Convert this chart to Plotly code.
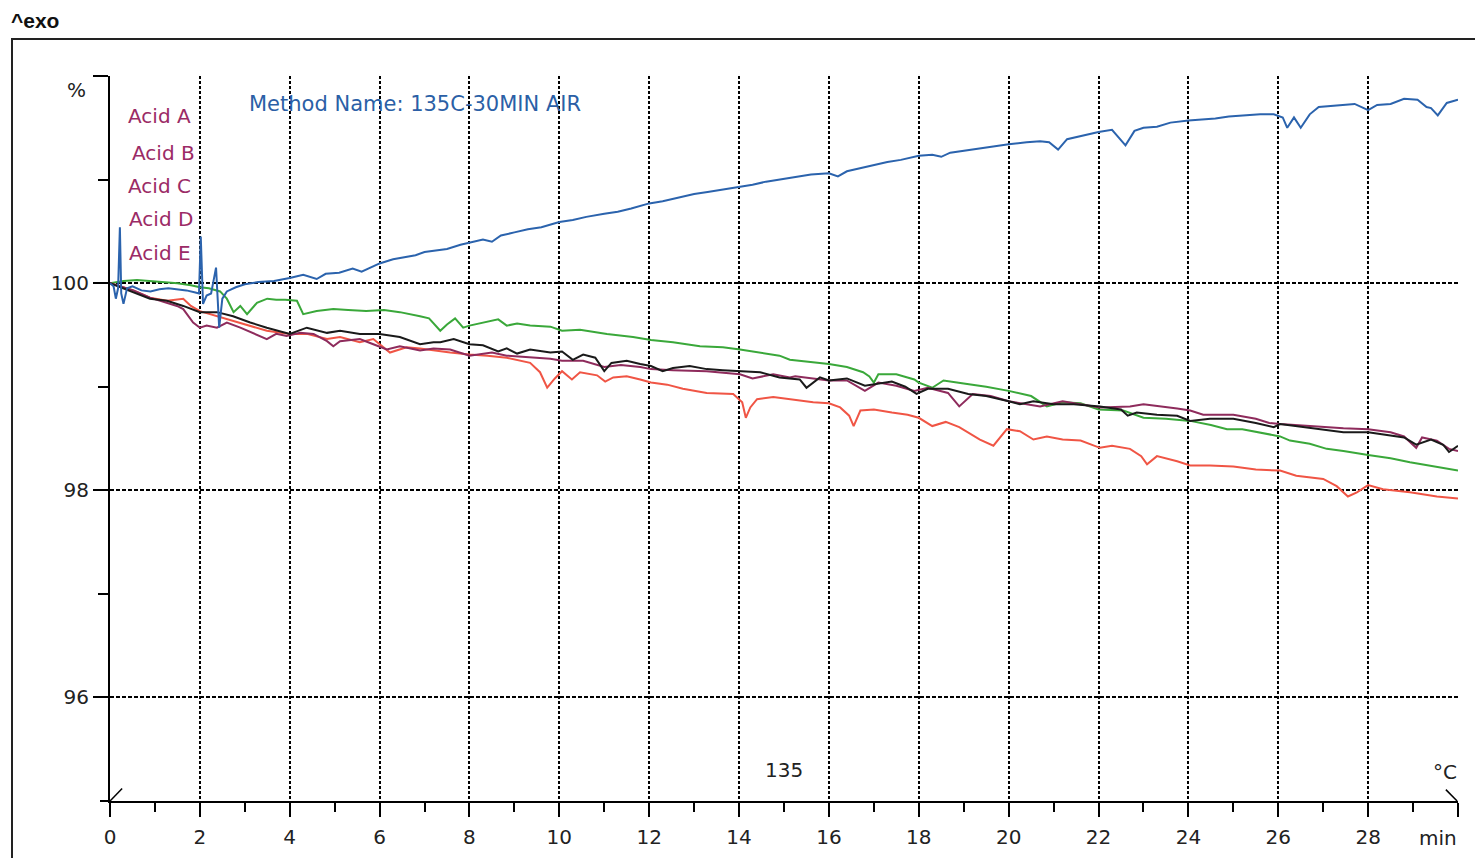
import plotly.graph_objects as go

# ---------------- data (time in min, mass in %) ----------------
blue_t = [0.0, 0.08, 0.13, 0.18, 0.22, 0.25, 0.30, 0.38, 0.5, 0.7, 0.9, 1.1, 1.3, 1.5, 1.7, 1.9, 1.98,
          2.02, 2.07, 2.15, 2.25, 2.36, 2.43, 2.5, 2.6, 2.8, 3.0, 3.3, 3.65, 4.0, 4.3, 4.6, 4.8, 5.1,
          5.4, 5.6, 5.8, 6.0, 6.3, 6.55, 6.8, 7.0, 7.3, 7.5, 7.8, 8.0, 8.3, 8.5, 8.7, 9.0, 9.3, 9.6,
          10.0, 10.3, 10.6, 11.0, 11.3, 11.6, 12.0, 12.3, 12.6, 13.0, 13.3, 13.6, 14.0, 14.3, 14.6,
          15.0, 15.3, 15.6, 16.0, 16.2, 16.4, 16.7, 17.0, 17.3, 17.6, 18.0, 18.3, 18.5, 18.7, 19.0,
          19.3, 19.6, 20.0, 20.4, 20.7, 20.9, 21.1, 21.3, 21.6, 22.0, 22.3, 22.6, 22.8, 23.0, 23.3,
          23.6, 24.0, 24.3, 24.6, 24.9, 25.3, 25.6, 25.9, 26.1, 26.2, 26.35, 26.5, 26.7, 26.9, 27.2,
          27.5, 27.7, 28.0, 28.2, 28.5, 28.8, 29.1, 29.3, 29.4, 29.55, 29.75, 30.0]
blue_v = [100.00, 99.97, 99.85, 99.95, 100.54, 99.90, 99.80, 99.95, 99.97, 99.93, 99.92, 99.94, 99.95,
          99.94, 99.93, 99.91, 99.90, 100.45, 99.80, 99.88, 99.90, 100.15, 99.57, 99.85, 99.92, 99.96,
          99.99, 100.01, 100.02, 100.05, 100.08, 100.04, 100.09, 100.10, 100.14, 100.11, 100.15, 100.19,
          100.23, 100.25, 100.27, 100.30, 100.32, 100.33, 100.37, 100.39, 100.42, 100.40, 100.46, 100.49,
          100.52, 100.54, 100.59, 100.61, 100.64, 100.67, 100.69, 100.72, 100.77, 100.79, 100.82, 100.86,
          100.88, 100.90, 100.93, 100.95, 100.98, 101.01, 101.03, 101.05, 101.06, 101.03, 101.08, 101.11,
          101.14, 101.17, 101.19, 101.23, 101.24, 101.22, 101.26, 101.28, 101.30, 101.32, 101.34, 101.36,
          101.37, 101.36, 101.29, 101.39, 101.42, 101.46, 101.48, 101.33, 101.47, 101.50, 101.51, 101.55,
          101.57, 101.58, 101.59, 101.61, 101.62, 101.63, 101.63, 101.60, 101.50, 101.60, 101.50, 101.63,
          101.70, 101.71, 101.72, 101.73, 101.67, 101.72, 101.73, 101.78, 101.77, 101.70, 101.69, 101.62,
          101.74, 101.77]

green_t = [0.0, 0.3, 0.6, 0.9, 1.2, 1.5, 1.8, 2.0, 2.2, 2.45, 2.6, 2.75, 2.9, 3.05, 3.27, 3.5, 3.7, 3.9,
           4.16, 4.3, 4.6, 4.97, 5.3, 5.7, 6.1, 6.45, 6.9, 7.1, 7.35, 7.5, 7.68, 7.86, 8.0, 8.3, 8.64,
           8.83, 9.06, 9.35, 9.8, 10.06, 10.46, 11.06, 11.64, 12.04, 12.53, 13.13, 13.64, 14.02, 14.47,
           14.9, 15.13, 15.65, 16.0, 16.4, 16.76, 16.9, 17.0, 17.1, 17.5, 17.9, 18.0, 18.3, 18.55, 19.0,
           19.5, 20.0, 20.5, 20.85, 21.2, 21.6, 22.0, 22.55, 23.0, 23.5, 24.04, 24.5, 24.86, 25.2, 25.6,
           26.04, 26.26, 26.7, 27.08, 27.45, 28.0, 28.5, 28.93, 29.3, 29.67, 30.0]
green_v = [100.00, 100.02, 100.03, 100.02, 100.01, 100.00, 99.98, 99.96, 99.95, 99.92, 99.85, 99.72,
           99.78, 99.70, 99.81, 99.85, 99.84, 99.84, 99.83, 99.70, 99.73, 99.75, 99.74, 99.73, 99.74,
           99.72, 99.68, 99.66, 99.54, 99.60, 99.66, 99.57, 99.59, 99.62, 99.65, 99.59, 99.61, 99.59,
           99.58, 99.54, 99.55, 99.51, 99.48, 99.45, 99.43, 99.39, 99.38, 99.36, 99.33, 99.30, 99.26,
           99.24, 99.22, 99.19, 99.14, 99.10, 99.04, 99.12, 99.12, 99.07, 99.04, 98.99, 99.06, 99.03,
           99.00, 98.96, 98.91, 98.81, 98.85, 98.84, 98.78, 98.77, 98.70, 98.69, 98.67, 98.63, 98.59,
           98.59, 98.56, 98.52, 98.48, 98.45, 98.40, 98.38, 98.34, 98.31, 98.27, 98.24, 98.21, 98.19]

red_t = [0.0, 0.25, 0.52, 0.89, 1.27, 1.63, 1.8, 2.0, 2.38, 2.74, 3.12, 3.49, 4.0, 4.38, 4.83, 5.12,
         5.56, 5.86, 6.23, 6.6, 6.9, 7.2, 7.57, 8.0, 8.4, 8.83, 9.35, 9.57, 9.73, 9.9, 10.06, 10.28,
         10.46, 10.84, 11.02, 11.2, 11.5, 11.8, 12.04, 12.4, 12.75, 13.28, 13.87, 14.07, 14.15, 14.25,
         14.4, 14.76, 15.13, 15.65, 16.0, 16.25, 16.45, 16.55, 16.7, 17.0, 17.4, 17.75, 18.0, 18.3,
         18.6, 18.9, 19.36, 19.66, 19.96, 20.25, 20.55, 20.85, 21.2, 21.6, 22.03, 22.3, 22.7, 22.95,
         23.08, 23.3, 23.75, 24.04, 24.48, 25.0, 25.5, 26.04, 26.4, 27.0, 27.3, 27.55, 27.75, 28.0,
         28.33, 28.93, 29.53, 30.0]
red_v = [100.00, 99.97, 99.93, 99.86, 99.83, 99.85, 99.78, 99.73, 99.68, 99.64, 99.59, 99.54, 99.51,
         99.51, 99.46, 99.48, 99.43, 99.46, 99.33, 99.38, 99.37, 99.35, 99.33, 99.31, 99.30, 99.28,
         99.23, 99.14, 98.99, 99.08, 99.15, 99.07, 99.14, 99.11, 99.05, 99.09, 99.10, 99.07, 99.04,
         99.02, 98.98, 98.94, 98.93, 98.85, 98.70, 98.80, 98.88, 98.90, 98.88, 98.85, 98.84, 98.80,
         98.72, 98.62, 98.77, 98.78, 98.75, 98.73, 98.70, 98.62, 98.66, 98.61, 98.49, 98.43, 98.59,
         98.57, 98.49, 98.52, 98.49, 98.48, 98.41, 98.43, 98.40, 98.33, 98.25, 98.33, 98.28, 98.24,
         98.24, 98.23, 98.20, 98.19, 98.14, 98.11, 98.04, 97.94, 97.98, 98.05, 98.01, 97.98, 97.94,
         97.92]

black_t = [0.0, 0.52, 0.89, 1.27, 1.63, 2.0, 2.38, 2.74, 3.12, 3.49, 4.0, 4.38, 4.83, 5.12, 5.56, 6.0,
           6.45, 6.9, 7.2, 7.35, 7.65, 8.0, 8.3, 8.64, 8.83, 9.06, 9.35, 9.8, 10.06, 10.3, 10.53, 10.8,
           11.0, 11.16, 11.5, 11.8, 12.04, 12.3, 12.53, 12.9, 13.28, 13.64, 14.02, 14.47, 14.9, 15.2,
           15.35, 15.5, 15.8, 16.0, 16.4, 16.8, 17.1, 17.4, 17.7, 17.95, 18.2, 18.65, 19.1, 19.5, 20.0,
           20.25, 20.55, 21.0, 21.45, 22.03, 22.5, 22.65, 22.85, 23.3, 23.75, 24.04, 24.48, 25.0, 25.5,
           25.9, 26.04, 26.4, 27.0, 27.45, 28.0, 28.5, 28.8, 29.07, 29.4, 29.67, 29.8, 30.0]
black_v = [100.00, 99.91, 99.85, 99.83, 99.78, 99.72, 99.72, 99.68, 99.62, 99.57, 99.51, 99.57, 99.52,
           99.54, 99.51, 99.51, 99.48, 99.41, 99.43, 99.43, 99.46, 99.41, 99.40, 99.34, 99.37, 99.32,
           99.36, 99.33, 99.34, 99.26, 99.31, 99.28, 99.15, 99.23, 99.25, 99.22, 99.20, 99.15, 99.18,
           99.20, 99.17, 99.16, 99.15, 99.14, 99.09, 99.08, 99.07, 98.99, 99.09, 99.06, 99.08, 99.01,
           99.03, 99.05, 99.00, 98.93, 98.98, 98.98, 98.93, 98.91, 98.86, 98.83, 98.86, 98.83, 98.83,
           98.81, 98.78, 98.72, 98.75, 98.73, 98.72, 98.67, 98.69, 98.69, 98.65, 98.61, 98.64, 98.62,
           98.59, 98.56, 98.56, 98.53, 98.51, 98.44, 98.49, 98.44, 98.37, 98.43]

purple_t = [0.0, 0.52, 0.89, 1.27, 1.49, 1.63, 1.85, 2.0, 2.15, 2.38, 2.6, 2.9, 3.2, 3.49, 3.7, 3.93,
            4.23, 4.53, 4.83, 4.97, 5.12, 5.56, 5.86, 6.16, 6.45, 6.9, 7.2, 7.57, 8.0, 8.5, 8.83, 9.35,
            9.8, 10.06, 10.53, 11.0, 11.37, 11.8, 12.04, 12.53, 13.28, 14.02, 14.3, 14.76, 15.13, 15.25,
            15.8, 16.0, 16.4, 16.8, 17.1, 17.5, 17.9, 18.2, 18.65, 18.9, 19.2, 19.6, 20.0, 20.7, 21.2,
            21.6, 22.03, 22.7, 23.0, 23.75, 24.04, 24.33, 25.0, 25.5, 25.8, 26.04, 26.7, 27.45, 28.0,
            28.5, 28.8, 29.07, 29.2, 29.53, 29.8, 30.0]
purple_v = [100.00, 99.93, 99.86, 99.81, 99.78, 99.75, 99.62, 99.57, 99.59, 99.57, 99.62, 99.57, 99.51,
            99.46, 99.51, 99.49, 99.52, 99.51, 99.44, 99.39, 99.44, 99.46, 99.41, 99.36, 99.39, 99.35,
            99.37, 99.36, 99.30, 99.33, 99.30, 99.28, 99.27, 99.25, 99.25, 99.19, 99.21, 99.19, 99.17,
            99.16, 99.15, 99.12, 99.08, 99.12, 99.09, 99.10, 99.07, 99.06, 99.06, 98.96, 99.04, 99.01,
            98.96, 98.99, 98.94, 98.81, 98.93, 98.91, 98.86, 98.81, 98.86, 98.83, 98.80, 98.81, 98.83,
            98.79, 98.77, 98.73, 98.73, 98.69, 98.65, 98.64, 98.62, 98.60, 98.59, 98.56, 98.52, 98.41,
            98.51, 98.48, 98.40, 98.38]

acid_labels = ["Acid A", "Acid B", "Acid C", "Acid D", "Acid E"]
x_tick_vals = list(range(0, 31, 2))
x_tick_text = [str(v) for v in range(0, 29, 2)] + [""]
y_tick_vals = [96, 98, 100, 102]
y_tick_text = ["96", "98", "100", ""]

# ---------------- figure ----------------
FONT = "DejaVu Sans"
fig = go.Figure()

series = [
    (green_t, green_v, "#3aa83a", "Acid C"),
    (red_t, red_v, "#f05545", "Acid D"),
    (purple_t, purple_v, "#8e2b5c", "Acid E"),
    (black_t, black_v, "#1a1a1a", "Acid B"),
    (blue_t, blue_v, "#2b63ad", "Acid A"),
]
for t, v, c, n in series:
    fig.add_trace(go.Scatter(x=t, y=v, mode="lines", name=n,
                             line=dict(color=c, width=2), showlegend=False))

fig.update_xaxes(
    range=[0, 30], showline=True, linecolor="black", linewidth=2,
    tickmode="array", tickvals=x_tick_vals, ticktext=x_tick_text,
    ticks="outside", ticklen=14, tickwidth=2, tickcolor="black",
    minor=dict(tickvals=list(range(1, 30, 2)), ticks="outside", ticklen=9,
               tickwidth=2, tickcolor="black", showgrid=False),
    showgrid=True, gridcolor="black", gridwidth=1.8, griddash="3px,2px",
    zeroline=False, tickfont=dict(family=FONT, size=20, color="#222"),
    ticklabelstandoff=3, automargin=False,
)
fig.update_yaxes(
    range=[95, 102], showline=True, linecolor="black", linewidth=2,
    tickmode="array", tickvals=y_tick_vals, ticktext=y_tick_text,
    ticks="outside", ticklen=15, tickwidth=2, tickcolor="black",
    minor=dict(tickvals=[97, 99, 101], ticks="outside", ticklen=10,
               tickwidth=2, tickcolor="black", showgrid=False),
    showgrid=True, gridcolor="black", gridwidth=1.8, griddash="4px,2px",
    zeroline=False, tickfont=dict(family=FONT, size=20, color="#222"),
    automargin=False,
)

annotations = []
label_y = [116, 153, 186, 219, 253]
label_x = [193, 197, 193, 195, 193]
for lab, py, px in zip(acid_labels, label_y, label_x):
    annotations.append(dict(xref="paper", yref="paper", x=(px - 110) / 1348, y=(801 - py) / 725,
                            text=lab, showarrow=False, xanchor="right", yanchor="middle",
                            font=dict(family=FONT, size=20, color="#9b2b66")))
annotations += [
    dict(xref="paper", yref="paper", x=(247 - 110) / 1348, y=(801 - 104) / 725,
         text="Method Name: 135C-30MIN AIR", showarrow=False, xanchor="left", yanchor="middle",
         font=dict(family=FONT, size=21, color="#2b5fa6")),
    dict(xref="paper", yref="paper", x=(88 - 110) / 1348, y=(801 - 90) / 725, text="%",
         showarrow=False, xanchor="right", yanchor="middle",
         font=dict(family=FONT, size=20, color="#222")),
    dict(x=15.0, y=95.30, text="135", showarrow=False,
         font=dict(family=FONT, size=20, color="#222")),
    dict(x=29.72, y=95.28, text="°C", showarrow=False,
         font=dict(family=FONT, size=20, color="#222")),
    dict(xref="x", yref="paper", x=29.55, y=(801 - 838) / 725, text="min", showarrow=False,
         yanchor="middle", font=dict(family=FONT, size=20, color="#222")),
    dict(xref="paper", yref="paper", x=(9 - 110) / 1348, y=(801 - 20) / 725, text="<b>^exo</b>",
         showarrow=False, xanchor="left", yanchor="middle",
         font=dict(family="Liberation Sans", size=21, color="#111")),
]

shapes = [
    # outer frame
    dict(type="line", xref="paper", yref="paper", x0=(11 - 110) / 1348, x1=(1480 - 110) / 1348,
         y0=(801 - 39) / 725, y1=(801 - 39) / 725, line=dict(color="#222", width=2)),
    dict(type="line", xref="paper", yref="paper", x0=(12 - 110) / 1348, x1=(12 - 110) / 1348,
         y0=(801 - 39) / 725, y1=(801 - 870) / 725, line=dict(color="#222", width=2)),
    # x axis line extension to the left
    dict(type="line", xref="paper", yref="paper", x0=(100 - 110) / 1348, x1=0, y0=0, y1=0,
         line=dict(color="black", width=2)),
    # small diagonal marks
    dict(type="line", xref="x", yref="y", x0=0, y0=95.0, x1=0.27, y1=95.12,
         line=dict(color="black", width=1.5)),
    dict(type="line", xref="x", yref="y", x0=29.73, y0=95.11, x1=29.98, y1=95.0,
         line=dict(color="black", width=1.5)),
]

fig.update_layout(
    width=1475, height=858,
    margin=dict(l=110, r=17, t=76, b=57),
    paper_bgcolor="white", plot_bgcolor="white",
    annotations=annotations, shapes=shapes,
    showlegend=False,
)

fig.write_html("out.html", config={"displayModeBar": False},
               post_script="document.body.style.margin='0';document.body.style.overflow='hidden';")
